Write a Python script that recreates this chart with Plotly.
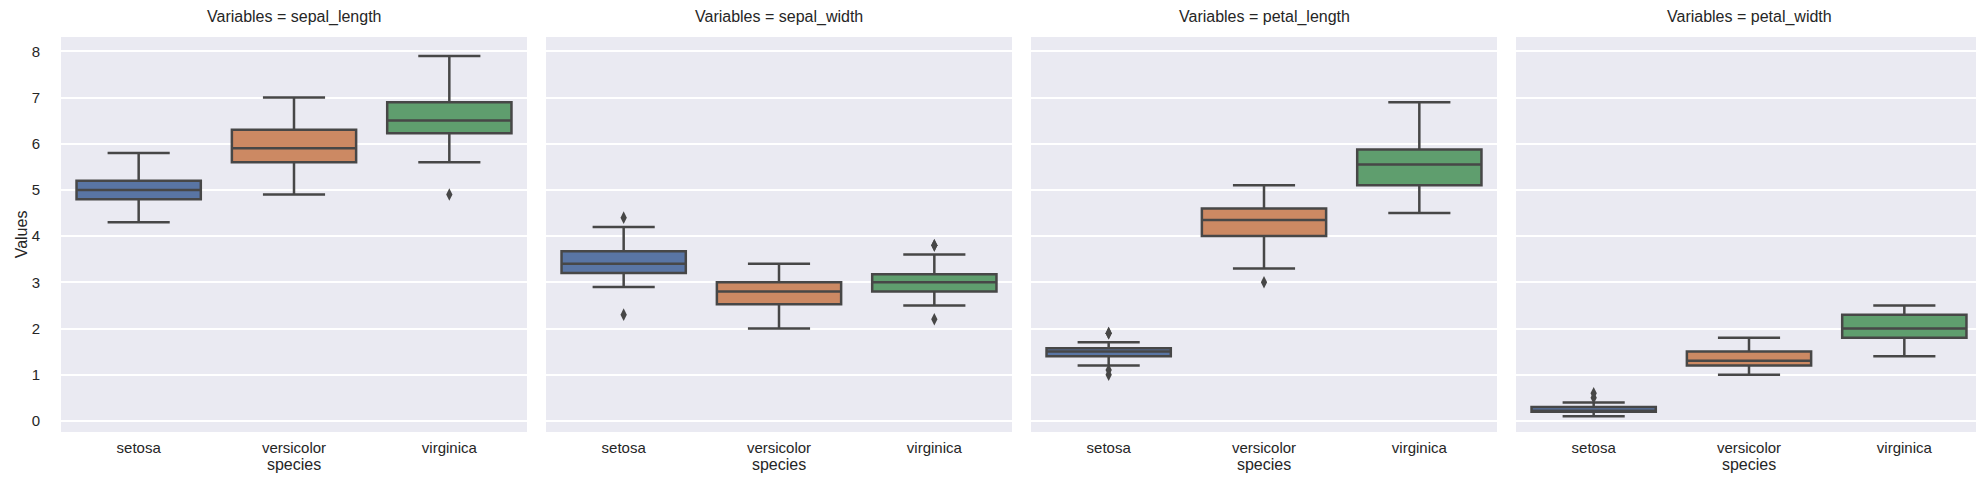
import plotly.graph_objects as go
from plotly.subplots import make_subplots

species = ["setosa", "versicolor", "virginica"]
variables = ["sepal_length", "sepal_width", "petal_length", "petal_width"]

# box statistics, one row per variable, one value per species
lower = [[4.3, 4.9, 5.6], [2.9, 2.0, 2.5], [1.2, 3.3, 4.5], [0.1, 1.0, 1.4]]
q1 = [[4.8, 5.6, 6.225], [3.2, 2.525, 2.8], [1.4, 4.0, 5.1], [0.2, 1.2, 1.8]]
median = [[5.0, 5.9, 6.5], [3.4, 2.8, 3.0], [1.5, 4.35, 5.55], [0.2, 1.3, 2.0]]
q3 = [[5.2, 6.3, 6.9], [3.675, 3.0, 3.175], [1.575, 4.6, 5.875], [0.3, 1.5, 2.3]]
upper = [[5.8, 7.0, 7.9], [4.2, 3.4, 3.6], [1.7, 5.1, 6.9], [0.4, 1.8, 2.5]]

# fliers
out_var = ["sepal_length", "sepal_width", "sepal_width", "sepal_width", "sepal_width", "sepal_width",
           "petal_length", "petal_length", "petal_length", "petal_length", "petal_length",
           "petal_width", "petal_width"]
out_species = ["virginica", "setosa", "setosa", "virginica", "virginica", "virginica",
               "setosa", "setosa", "setosa", "setosa", "versicolor",
               "setosa", "setosa"]
out_value = [4.9, 4.4, 2.3, 3.8, 3.8, 2.2,
             1.0, 1.1, 1.9, 1.9, 3.0,
             0.5, 0.6]

colors = ["#5975A4", "#CC8963", "#5F9E6E"]
edge = "#474747"
font = "Liberation Sans, Arial, sans-serif"

W, H = 1984, 483
ml, mr, mt, mb = 53, 10, 29, 59
gap = 19

fig = make_subplots(rows=1, cols=4, shared_yaxes=True,
                    horizontal_spacing=gap / (W - ml - mr),
                    subplot_titles=["Variables = %s" % v for v in variables])

for vi, var in enumerate(variables):
    for si, sp in enumerate(species):
        fig.add_trace(go.Box(x=[sp], q1=[q1[vi][si]], median=[median[vi][si]], q3=[q3[vi][si]],
                             lowerfence=[lower[vi][si]], upperfence=[upper[vi][si]],
                             width=0.8, whiskerwidth=0.5, boxpoints=False,
                             fillcolor=colors[si], line=dict(color=edge, width=2.5),
                             showlegend=False, hoverinfo="skip"),
                      row=1, col=vi + 1)
    xs = [s for v, s in zip(out_var, out_species) if v == var]
    ys = [y for v, y in zip(out_var, out_value) if v == var]
    fig.add_trace(go.Scatter(x=xs, y=ys, mode="markers",
                             marker=dict(symbol="diamond-tall", size=9, color=edge),
                             showlegend=False, hoverinfo="skip"),
                  row=1, col=vi + 1)
    fig.update_xaxes(type="category", categoryorder="array", categoryarray=species,
                     range=[-0.5, 2.5], showgrid=False, zeroline=False,
                     ticks="outside", ticklen=2, tickcolor="rgba(0,0,0,0)",
                     tickfont=dict(size=15, color="#262626"),
                     title=dict(text="species", font=dict(size=16, color="#262626"), standoff=2),
                     row=1, col=vi + 1)

fig.update_yaxes(range=[-0.24, 8.31], dtick=1, showgrid=True, gridcolor="white", gridwidth=1.5,
                 zeroline=False, ticks="outside", ticklen=17, tickcolor="rgba(0,0,0,0)",
                 tickfont=dict(size=15, color="#262626"))
fig.update_yaxes(title=dict(text="Values", font=dict(size=16, color="#262626"), standoff=0),
                 row=1, col=1)

for ann in fig.layout.annotations:
    ann.font = dict(size=16, color="#262626", family=font)
    ann.yshift = 9

fig.update_layout(width=W, height=H, margin=dict(l=ml, r=mr, t=mt, b=mb),
                  plot_bgcolor="#EAEAF2", paper_bgcolor="white",
                  font=dict(family=font, color="#262626"),
                  boxmode="overlay")

fig.write_html("out.html")
